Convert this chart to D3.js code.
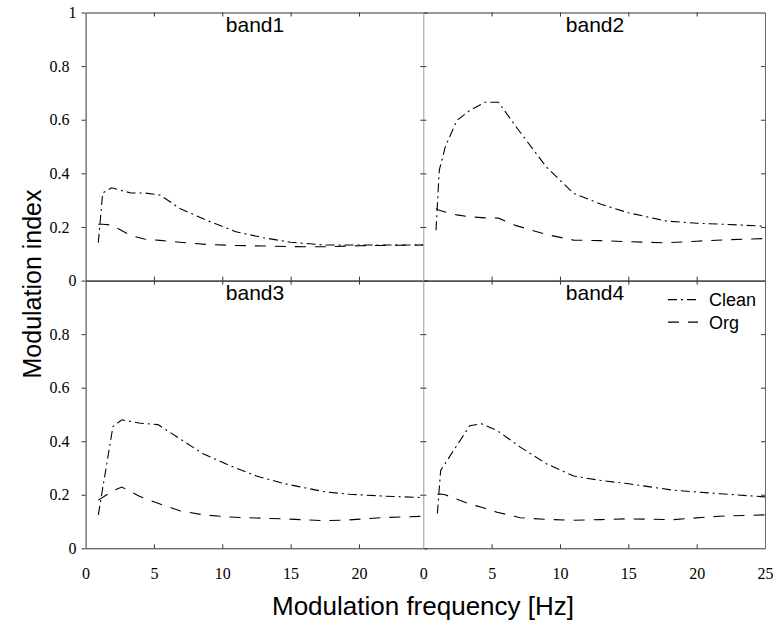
<!DOCTYPE html>
<html><head><meta charset="utf-8">
<script src="https://cdn.jsdelivr.net/npm/d3@7"></script>
<style>body{margin:0;background:#fff}svg{display:block}</style>
</head><body><svg id="chart" width="773" height="625"></svg>
<script>
// ---- data ----
const band1Freq  = [0.93, 1.25, 1.9, 3.3, 4.3, 5.45, 6.9, 8.8, 11, 13, 15, 17.4, 20, 25];
const band1Clean = [0.141, 0.327, 0.346, 0.327, 0.327, 0.319, 0.269, 0.226, 0.182, 0.160, 0.143, 0.133, 0.133, 0.133];
const band1Org   = [0.210, 0.210, 0.207, 0.168, 0.155, 0.150, 0.143, 0.135, 0.131, 0.129, 0.127, 0.126, 0.130, 0.133];

const band2Freq  = [0.93, 1.17, 1.6, 2.45, 3.4, 4.5, 5.5, 6.8, 9, 11, 13, 15, 17.8, 20, 22, 25];
const band2Clean = [0.188, 0.412, 0.498, 0.597, 0.635, 0.665, 0.665, 0.573, 0.424, 0.325, 0.285, 0.253, 0.222, 0.214, 0.210, 0.203];
const band2Org   = [0.269, 0.262, 0.256, 0.245, 0.238, 0.234, 0.233, 0.205, 0.172, 0.151, 0.149, 0.145, 0.141, 0.147, 0.152, 0.157];

const band3Freq  = [0.93, 2.0, 2.65, 3.9, 5.3, 6.9, 8.6, 10.5, 12.5, 14.5, 17.5, 19.3, 21.8, 25];
const band3Clean = [0.125, 0.455, 0.480, 0.468, 0.462, 0.409, 0.353, 0.310, 0.270, 0.242, 0.211, 0.202, 0.195, 0.189];
const band3Org   = [0.180, 0.215, 0.229, 0.195, 0.168, 0.140, 0.125, 0.117, 0.113, 0.110, 0.103, 0.106, 0.115, 0.120];

const band4Freq  = [1.03, 1.27, 1.6, 3.4, 4.27, 5.4, 7.1, 9, 11, 13, 14.9, 18.3, 21.7, 25];
const band4Clean = [0.130, 0.291, 0.317, 0.458, 0.465, 0.440, 0.378, 0.316, 0.270, 0.253, 0.242, 0.217, 0.204, 0.192];
const band4Org   = [0.202, 0.203, 0.200, 0.165, 0.153, 0.135, 0.114, 0.108, 0.105, 0.107, 0.110, 0.107, 0.120, 0.125];

const panelTitles = ["band1", "band2", "band3", "band4"];
const seriesNames = ["Clean", "Org"];
const xTickValues = [0, 5, 10, 15, 20, 25];
const yTickValues = [0, 0.2, 0.4, 0.6, 0.8, 1];
const xAxisTitle = "Modulation frequency [Hz]";
const yAxisTitle = "Modulation index";

// ---- layout ----
const svg = d3.select("#chart");
const LEFT = 85.6, DIV = 423.3, RIGHT = 765, TOP = 12.5, MID = 280.6, BOTTOM = 548.3;
const PW = RIGHT - DIV;
const FRAME = "#333", DIVCOL = "#999";
const cleanDash = "9,4,2,4", orgDash = "11,9";
const SERIF = "'Liberation Serif', 'DejaVu Serif', serif";
const SANS = "'Liberation Sans', Arial, sans-serif";

const panels = [
  {title: panelTitles[0], freq: band1Freq, clean: band1Clean, org: band1Org, col: 0, row: 0},
  {title: panelTitles[2], freq: band3Freq, clean: band3Clean, org: band3Org, col: 0, row: 1},
  {title: panelTitles[1], freq: band2Freq, clean: band2Clean, org: band2Org, col: 1, row: 0},
  {title: panelTitles[3], freq: band4Freq, clean: band4Clean, org: band4Org, col: 1, row: 1},
];

const defs = svg.append("defs");
defs.append("clipPath").attr("id", "clipL").append("rect")
  .attr("x", LEFT).attr("y", 0).attr("width", DIV - LEFT).attr("height", 625);
defs.append("clipPath").attr("id", "clipR").append("rect")
  .attr("x", DIV).attr("y", 0).attr("width", RIGHT - DIV + 1).attr("height", 625);

const yFmt = v => (v === 0 || v === 1) ? String(v) : d3.format(".1f")(v);

function styleAxis(g, col) {
  g.selectAll("path.domain").attr("stroke", col || FRAME).attr("stroke-width", 1);
  g.selectAll(".tick line").attr("stroke", "#333").attr("stroke-width", 1);
  g.selectAll(".tick text").attr("font-family", SERIF).attr("font-size", 16).attr("fill", "#000");
}

panels.forEach(p => {
  const x0 = p.col === 0 ? LEFT : DIV;
  const y0 = p.row === 0 ? TOP : MID;
  const y1 = p.row === 0 ? MID : BOTTOM;
  const x = d3.scaleLinear().domain([0, 25]).range([x0, x0 + PW]);
  const y = d3.scaleLinear().domain([0, 1]).range([y1, y0]);
  const g = svg.append("g");
  const inner = xTickValues.filter(v => v > 0 && v < 25);
  const innerY = yTickValues.filter(v => v > 0 && v < 1);

  // top axis (ticks inward)
  g.append("g").attr("transform", `translate(0,${y0})`)
    .call(d3.axisBottom(x).tickValues(inner).tickSize(4).tickSizeOuter(0).tickFormat(""))
    .call(a => styleAxis(a));
  // bottom axis (ticks inward)
  const bottom = g.append("g").attr("transform", `translate(0,${y1})`);
  if (p.row === 1) {
    const labels = p.col === 0 ? xTickValues.filter(v => v < 25) : xTickValues;
    bottom.call(d3.axisBottom(x).tickValues(labels).tickSizeInner(-4).tickSizeOuter(0).tickPadding(19).tickFormat(d3.format("d")));
    bottom.selectAll(".tick").filter(d => d === 0 || d === 25).select("line").remove();
  } else {
    bottom.call(d3.axisTop(x).tickValues(inner).tickSize(4).tickSizeOuter(0).tickFormat(""));
  }
  styleAxis(bottom);

  if (p.col === 0) {
    // left axis, ticks outward, labels
    const labels = p.row === 0 ? yTickValues : yTickValues.filter(v => v < 1);
    g.append("g").attr("transform", `translate(${x0},0)`)
      .call(d3.axisLeft(y).tickValues(labels).tickSize(4).tickSizeOuter(0).tickPadding(5).tickFormat(yFmt))
      .call(a => styleAxis(a))
      .call(a => a.selectAll(".tick text").filter(d => d > 0 && d < 1).attr("dx", -7));
    // right side ticks (inward) on the divider
    g.append("g").attr("transform", `translate(${DIV},0)`)
      .call(d3.axisLeft(y).tickValues(innerY).tickSize(3).tickSizeOuter(0).tickFormat(""))
      .call(a => { styleAxis(a, DIVCOL); a.select("path.domain").remove(); });
  } else {
    g.append("g").attr("transform", `translate(${x0},0)`)
      .call(d3.axisRight(y).tickValues(innerY).tickSize(3).tickSizeOuter(0).tickFormat(""))
      .call(a => styleAxis(a, DIVCOL));
    g.append("g").attr("transform", `translate(${x0 + PW},0)`)
      .call(d3.axisLeft(y).tickValues(innerY).tickSize(4).tickSizeOuter(0).tickFormat(""))
      .call(a => styleAxis(a, "#666"));
  }

  // lines
  const line = d3.line().x(d => x(d[0])).y(d => y(d[1]));
  const lg = g.append("g").attr("clip-path", p.col === 0 ? "url(#clipL)" : "url(#clipR)");
  lg.append("path").datum(p.freq.map((f, i) => [f, p.clean[i]]))
    .attr("d", line).attr("fill", "none").attr("stroke", "#000").attr("stroke-width", 1.1)
    .attr("stroke-dasharray", cleanDash);
  lg.append("path").datum(p.freq.map((f, i) => [f, p.org[i]]))
    .attr("d", line).attr("fill", "none").attr("stroke", "#000").attr("stroke-width", 1.1)
    .attr("stroke-dasharray", orgDash);

  // panel title
  g.append("text").attr("x", p.col === 0 ? 255 : 595).attr("y", y0 + 19)
    .attr("text-anchor", "middle").attr("font-family", SANS)
    .attr("font-size", 21).attr("fill", "#000").text(p.title);

  // legend in band4 panel
  if (p.col === 1 && p.row === 1) {
    const leg = g.append("g");
    [[seriesNames[0], cleanDash, 19], [seriesNames[1], orgDash, 41.5]].forEach(([name, dash, dy]) => {
      leg.append("line").attr("x1", 668).attr("x2", 698).attr("y1", y0 + dy).attr("y2", y0 + dy)
        .attr("stroke", "#000").attr("stroke-width", 1.1).attr("stroke-dasharray", dash);
      leg.append("text").attr("x", 709).attr("y", y0 + dy + 6.5)
        .attr("font-family", SANS).attr("font-size", 18)
        .attr("fill", "#000").text(name);
    });
  }
});

// axis titles
svg.append("text").attr("x", 423).attr("y", 615).attr("text-anchor", "middle")
  .attr("font-family", SANS).attr("font-size", 26)
  .attr("fill", "#000").text(xAxisTitle);
svg.append("text").attr("transform", "translate(41,284) rotate(-90)").attr("text-anchor", "middle")
  .attr("font-family", SANS).attr("font-size", 25)
  .attr("fill", "#000").text(yAxisTitle);
</script>
</body></html>
